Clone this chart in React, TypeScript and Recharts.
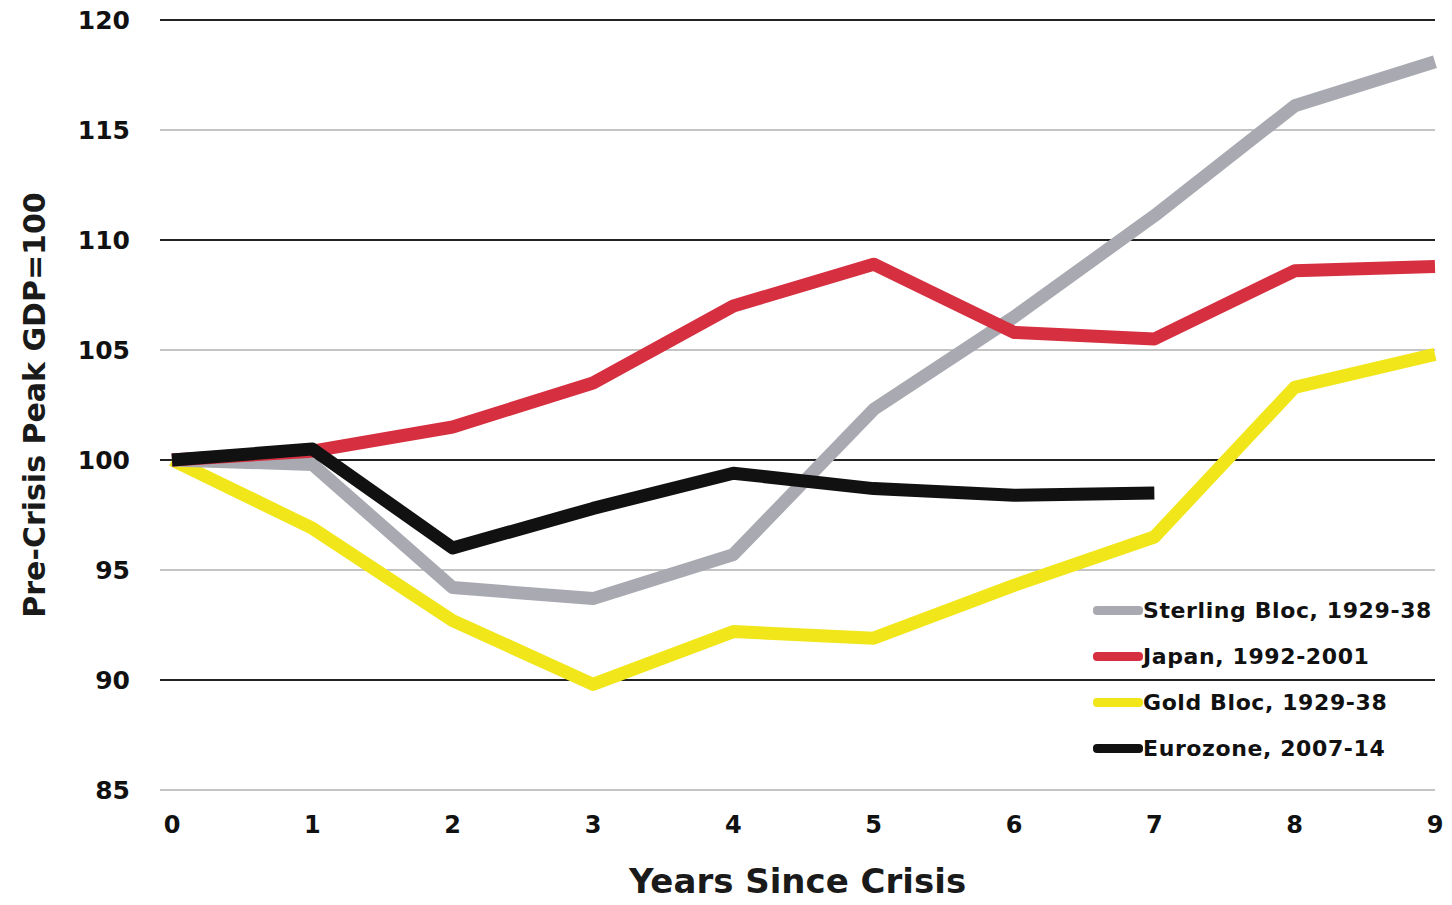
import { LineChart, Line, XAxis, YAxis, ReferenceLine, Legend } from "recharts"

const years = [0, 1, 2, 3, 4, 5, 6, 7, 8, 9]
const sterling = [100, 99.8, 94.2, 93.7, 95.7, 102.3, 106.5, 111.1, 116.1, 118.1]
const japan = [100, 100.4, 101.5, 103.5, 107, 108.9, 105.8, 105.5, 108.6, 108.8]
const gold = [100, 96.9, 92.7, 89.8, 92.2, 91.9, 94.3, 96.5, 103.3, 104.8]
const eurozone = [100, 100.5, 96, 97.8, 99.4, 98.7, 98.4, 98.5, null, null]

const yTicks = [85, 90, 95, 100, 105, 110, 115, 120]
const darkGrid = [90, 100, 110, 120]
const lightGrid = [85, 95, 105, 115]

const series = [
  { key: "gold", name: "Gold Bloc, 1929-38", color: "#f0e619" },
  { key: "sterling", name: "Sterling Bloc, 1929-38", color: "#a8a9b1" },
  { key: "japan", name: "Japan, 1992-2001", color: "#d62f40" },
  { key: "eurozone", name: "Eurozone, 2007-14", color: "#111111" },
]
const legendOrder = ["sterling", "japan", "gold", "eurozone"]

const font = "'DejaVu Sans', Verdana, sans-serif"

const data = years.map((y, i) => ({
  year: y,
  sterling: sterling[i],
  japan: japan[i],
  gold: gold[i],
  eurozone: eurozone[i],
}))

function LegendBox() {
  return (
    <div style={{ fontFamily: font, fontWeight: "bold", fontSize: 22, letterSpacing: 0.6, color: "#111" }}>
      {legendOrder.map((k) => {
        const s = series.find((x) => x.key === k)!
        return (
          <div key={k} style={{ display: "flex", alignItems: "center", height: 46 }}>
            <div style={{ width: 50, height: 9, borderRadius: 4, background: s.color }} />
            <span style={{ whiteSpace: "nowrap" }}>{s.name}</span>
          </div>
        )
      })}
    </div>
  )
}

export default function App() {
  return (
    <div style={{ position: "absolute", left: 0, top: 0, background: "#fff" }}>
      <LineChart
        width={1452}
        height={905}
        data={data}
        margin={{ top: 20, right: 17, bottom: 55, left: 0 }}
      >
        {lightGrid.map((v) => (
          <ReferenceLine key={v} y={v} stroke="#c4c4c4" strokeWidth={2} />
        ))}
        {darkGrid.map((v) => (
          <ReferenceLine key={v} y={v} stroke="#222" strokeWidth={2} />
        ))}
        <XAxis
          dataKey="year"
          type="number"
          domain={[0, 9]}
          ticks={years}
          padding={{ left: 12, right: 0 }}
          axisLine={false}
          tickLine={false}
          tickMargin={20}
          height={60}
          tick={{ fontFamily: font, fontWeight: "bold", fontSize: 24, fill: "#111" }}
          label={{
            value: "Years Since Crisis",
            position: "bottom",
            offset: 19,
            style: { fontFamily: font, fontWeight: "bold", fontSize: 34, fill: "#1a1a1a" },
          }}
        />
        <YAxis
          domain={[85, 120]}
          ticks={yTicks}
          width={160}
          axisLine={false}
          tickLine={false}
          tickMargin={24}
          tick={{ fontFamily: font, fontWeight: "bold", fontSize: 25, fill: "#111" }}
          label={{
            value: "Pre-Crisis Peak GDP=100",
            angle: -90,
            position: "insideLeft",
            offset: 34,
            style: { fontFamily: font, fontWeight: "bold", fontSize: 30, fill: "#1a1a1a", textAnchor: "middle" },
          }}
        />
        {series.map((s) => (
          <Line
            key={s.key}
            dataKey={s.key}
            name={s.name}
            stroke={s.color}
            strokeWidth={13}
            strokeLinejoin="round"
            dot={false}
            activeDot={false}
            type="linear"
            isAnimationActive={false}
          />
        ))}
        <Legend
          layout="vertical"
          align="center"
          verticalAlign="middle"
          content={() => <LegendBox />}
          wrapperStyle={{ position: "absolute", left: 1093, top: 587, width: 360 }}
        />
      </LineChart>
    </div>
  )
}
